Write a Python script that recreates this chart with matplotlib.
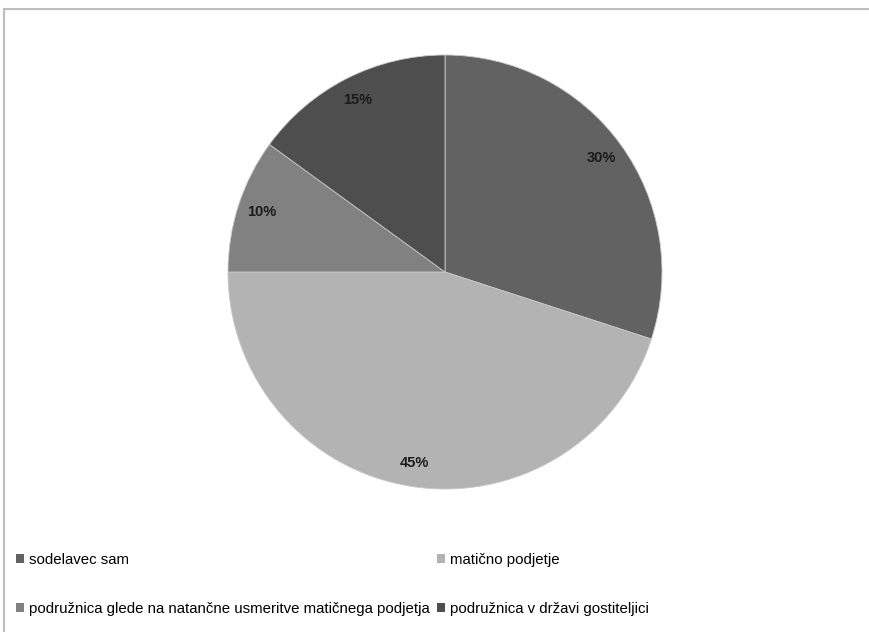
import matplotlib
matplotlib.use("Agg")
import matplotlib.pyplot as plt
from matplotlib.patches import Patch
from matplotlib.lines import Line2D

plt.rcParams['font.family'] = ['Liberation Sans', 'DejaVu Sans']

labels = ['sodelavec sam', 'matično podjetje',
          'podružnica glede na natančne usmeritve matičnega podjetja',
          'podružnica v državi gostiteljici']
values = [30, 45, 10, 15]
colors = ['#626262', '#b3b3b3', '#818181', '#4e4e4e']

fig = plt.figure(figsize=(8.7, 6.32), dpi=100)
W, H = 870, 632
cx, cy, r = 445, 272, 217
ax = fig.add_axes([(cx - r) / W, (H - cy - r) / H, 2 * r / W, 2 * r / H])

wedges, texts, autotexts = ax.pie(values, colors=colors, startangle=90, counterclock=False,
                                  autopct='%d%%', pctdistance=0.89,
                                  wedgeprops=dict(edgecolor='#c8c8c8', linewidth=0.6))
for t in autotexts:
    t.set_fontsize(10.5)
    t.set_fontweight('bold')
    t.set_color('#1a1a1a')
ax.set_xlim(-1, 1)
ax.set_ylim(-1, 1)
ax.set_aspect('equal')

# legend, column-major order like the original
order = [0, 2, 1, 3]
handles = [Patch(facecolor=colors[i], edgecolor='none') for i in order]
fig.legend(handles, [labels[i] for i in order], ncol=2, loc='upper left',
           bbox_to_anchor=(10 / W, 1 - 547 / H), frameon=False, fontsize=10.8,
           handlelength=0.55, handleheight=0.55, handletextpad=0.3,
           labelspacing=2.3, columnspacing=0.5, borderaxespad=0)

# outer frame (left and top edges visible)
fig.add_artist(Line2D([4 / W, 4 / W], [0, 1 - 9 / H], color='#bdbdbd', lw=1.5))
fig.add_artist(Line2D([4 / W, 1], [1 - 9 / H, 1 - 9 / H], color='#bdbdbd', lw=1.5))

fig.savefig('out.png', dpi=100)
